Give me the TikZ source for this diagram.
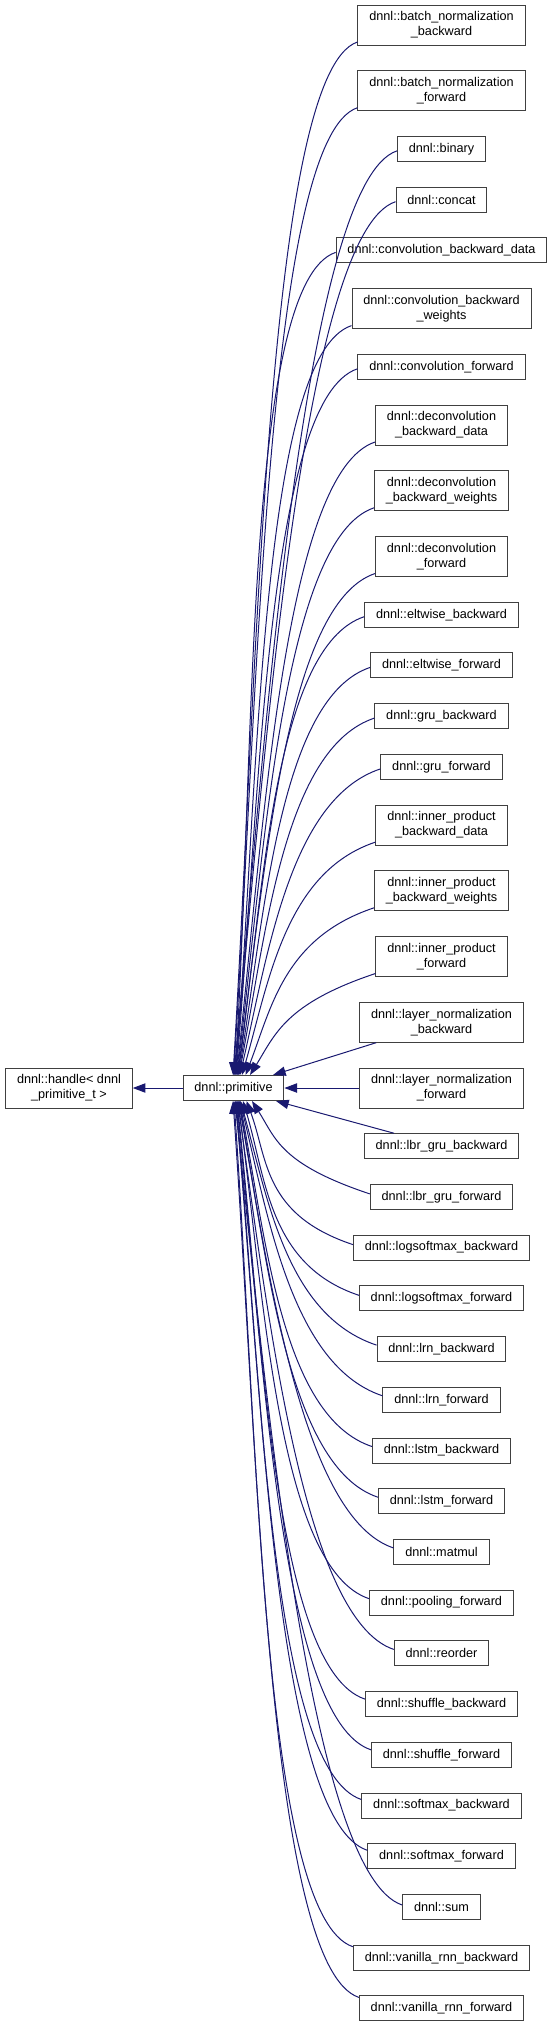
\documentclass[tikz,border=0pt]{standalone}
\usepackage{fontspec}
\setmainfont{Liberation Sans}
\usetikzlibrary{arrows.meta, calc}
\usepackage{xcolor}
\definecolor{mnblue}{RGB}{25,25,112}

\begin{document}
\begin{tikzpicture}[x=0.75pt, y=-0.75pt,
  box/.style={draw=black!75,fill=white,line width=0.75pt,inner xsep=8.5pt,inner ysep=2pt,
              minimum height=18.75pt,align=center,font=\fontsize{9.5}{11.25}\selectfont},
  tall/.style={box,minimum height=30pt},
  arr/.style={-{Triangle[length=9.5pt,width=7pt]},mnblue,line width=0.75pt}
]
\useasboundingbox (0,0) rectangle (555,2027);
\node[tall] (handle) at (69,1088) {dnnl::handle< dnnl\\\_primitive\_t >};
\node[box]  (prim)   at (233.5,1088) {dnnl::primitive};

\node[tall] (bnb)    at (441.5,25)    {dnnl::batch\_normalization\\\_backward};
\node[tall] (bnf)    at (441.5,90.7)  {dnnl::batch\_normalization\\\_forward};
\node[box]  (binary) at (441.5,148.9) {dnnl::binary};
\node[box]  (concat) at (441.5,199.7) {dnnl::concat};
\node[box]  (cbd)    at (441.5,250.4) {dnnl::convolution\_backward\_data};
\node[tall] (cbw)    at (441.5,308.6) {dnnl::convolution\_backward\\\_weights};
\node[box]  (cf)     at (441.5,366.8) {dnnl::convolution\_forward};
\node[tall] (dbd)    at (441.5,425)   {dnnl::deconvolution\\\_backward\_data};
\node[tall] (dbw)    at (441.5,490.8) {dnnl::deconvolution\\\_backward\_weights};
\node[tall] (df)     at (441.5,556.5) {dnnl::deconvolution\\\_forward};
\node[box]  (eb)     at (441.5,614.7) {dnnl::eltwise\_backward};
\node[box]  (ef)     at (441.5,665.4) {dnnl::eltwise\_forward};
\node[box]  (gb)     at (441.5,716.1) {dnnl::gru\_backward};
\node[box]  (gf)     at (441.5,766.9) {dnnl::gru\_forward};
\node[tall] (ipbd)   at (441.5,825.1) {dnnl::inner\_product\\\_backward\_data};
\node[tall] (ipbw)   at (441.5,890.8) {dnnl::inner\_product\\\_backward\_weights};
\node[tall] (ipf)    at (441.5,956.5) {dnnl::inner\_product\\\_forward};
\node[tall] (lnb)    at (441.5,1022.2) {dnnl::layer\_normalization\\\_backward};
\node[tall] (lnf)    at (441.5,1088)  {dnnl::layer\_normalization\\\_forward};
\node[box]  (lbrb)   at (441.5,1146.2) {dnnl::lbr\_gru\_backward};
\node[box]  (lbrf)   at (441.5,1196.9) {dnnl::lbr\_gru\_forward};
\node[box]  (lsb)    at (441.5,1247.6) {dnnl::logsoftmax\_backward};
\node[box]  (lsf)    at (441.5,1298.3) {dnnl::logsoftmax\_forward};
\node[box]  (lrnb)   at (441.5,1349.1) {dnnl::lrn\_backward};
\node[box]  (lrnf)   at (441.5,1399.8) {dnnl::lrn\_forward};
\node[box]  (lstmb)  at (441.5,1450.5) {dnnl::lstm\_backward};
\node[box]  (lstmf)  at (441.5,1501.2) {dnnl::lstm\_forward};
\node[box]  (matmul) at (441.5,1551.9) {dnnl::matmul};
\node[box]  (pool)   at (441.5,1602.7) {dnnl::pooling\_forward};
\node[box]  (reorder) at (441.5,1653.4) {dnnl::reorder};
\node[box]  (shb)    at (441.5,1704.1) {dnnl::shuffle\_backward};
\node[box]  (shf)    at (441.5,1754.8) {dnnl::shuffle\_forward};
\node[box]  (smb)    at (441.5,1805.5) {dnnl::softmax\_backward};
\node[box]  (smf)    at (441.5,1856.3) {dnnl::softmax\_forward};
\node[box]  (sum)    at (441.5,1907)  {dnnl::sum};
\node[box]  (vb)     at (441.5,1957.7) {dnnl::vanilla\_rnn\_backward};
\node[box]  (vf)     at (441.5,2008.4) {dnnl::vanilla\_rnn\_forward};

\draw[arr] (prim) -- (handle);
\draw[arr] (lnf) -- (prim);
\draw[arr] (lnb) -- (273,0 |- prim.north);
\draw[arr] (lbrb) -- (276,0 |- prim.south);

\foreach \nm/\off/\xe in {bnb/17/233, bnf/17/233.5, binary/2/234, concat/2/234.5,
    cbd/2/235, cbw/17/235.5, cf/2/236, dbd/17/236.5, dbw/17/237, df/17/237.5,
    eb/2/238, ef/2/238.5, gb/2/239, gf/2/240, ipbd/17/242, ipbw/17/245.5, ipf/17/250}{
  \coordinate (s) at ($(\nm.west)+(0,\off)$);
  \coordinate (e) at (\xe,0 |- prim.north);
  \coordinate (m) at ($(s)!0.5!(e |- s)$);
  \draw[arr] (s) .. controls ($(s)+(-90,30)$) and ($(e)!0.4!(m)$) .. (e);
}
\foreach \nm/\off/\xe in {lbrf/-3/252, lsb/-3/246.5, lsf/-3/243, lrnb/-4/240.5,
    lrnf/-4/240, lstmb/-4/239.5, lstmf/-4/239, matmul/-4/238.5, pool/-4/238,
    reorder/-4/237.5, shb/-5/237, shf/-5/236.5, smb/-6/236, smf/-6/235.5,
    sum/-2/235, vb/-11/234, vf/-11/233}{
  \coordinate (s) at ($(\nm.west)+(0,\off)$);
  \coordinate (e) at (\xe,0 |- prim.south);
  \coordinate (m) at ($(s)!0.5!(e |- s)$);
  \draw[arr] (s) .. controls ($(s)+(-90,-30)$) and ($(e)!0.4!(m)$) .. (e);
}
\end{tikzpicture}
\end{document}
